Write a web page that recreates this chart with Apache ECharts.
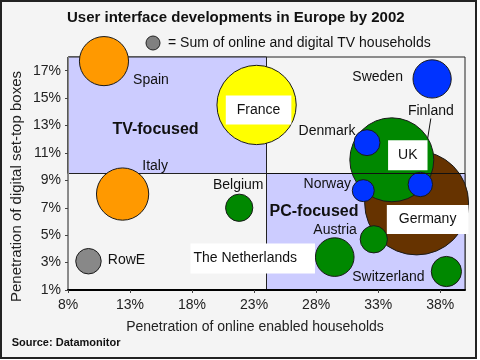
<!DOCTYPE html>
<html><head><meta charset="utf-8">
<script src="https://cdn.jsdelivr.net/npm/echarts@6/dist/echarts.min.js"></script>
<style>html,body{margin:0;padding:0;background:#fff}#c{width:480px;height:360px}</style>
</head><body><div id="c"></div>
<script>
// ---- data ----
const countries = ['Spain','France','Sweden','Germany','UK','Denmark','Finland','Norway','Austria','The Netherlands','Switzerland','Belgium','Italy','RowE'];
const onlinePenetration = [10.9, 23.2, 37.35, 36.1, 34.1, 32.1, 36.4, 31.8, 32.65, 29.5, 38.5, 21.8, 12.4, 9.65];
const digitalTVPenetration = [17.7, 14.5, 16.4, 7.35, 10.5, 11.75, 8.7, 8.25, 4.7, 3.4, 2.35, 7.0, 8.0, 3.1];
const households = [3.8, 9.9, 2.3, 17.0, 11.1, 1.06, 0.94, 0.76, 1.17, 2.35, 1.44, 1.17, 4.3, 1.02];
const xMin = 8, xMax = 40, xStep = 5;
const yMin = 1, yMax = 18, yStep = 2;
const xSplit = 24, ySplit = 9.5;
const titleText = 'User interface developments in Europe by 2002';
const legendText = '= Sum of online and digital TV households';
const xName = 'Penetration of online enabled households';
const yName = 'Penetration of digital set-top boxes';
const sourceText = 'Source: Datamonitor';

// ---- styles ----
const FONT = '"Liberation Sans", Arial, sans-serif';
const ORANGE = '#ff9900', YELLOW = '#ffff00', BLUE = '#0033ff', GREEN = '#008800', BROWN = '#663300', GREY = '#888888';
const colors = {'Spain':ORANGE,'Italy':ORANGE,'France':YELLOW,'Sweden':BLUE,'Denmark':BLUE,'Finland':BLUE,'Norway':BLUE,
  'UK':GREEN,'Austria':GREEN,'The Netherlands':GREEN,'Switzerland':GREEN,'Belgium':GREEN,'Germany':BROWN,'RowE':GREY};
const labelPlace = {
  'Spain':{dx:47,dy:19}, 'France':{dx:2,dy:5,box:[8,11,7,11]}, 'Sweden':{dx:-54.5,dy:-2},
  'Germany':{dx:11,dy:16.5,box:[8,12,7,12]}, 'UK':{dx:16,dy:-4.5,box:[8,10,8,10]},
  'Denmark':{dx:-40,dy:-12}, 'Finland':{dx:10.5,dy:-73,line:true}, 'Norway':{dx:-36,dy:-6},
  'Austria':{dx:-38.7,dy:-9}, 'The Netherlands':{dx:-82,dy:1.5,box:[8,18,8,3]},
  'Switzerland':{dx:-58,dy:5.6}, 'Belgium':{dx:-1,dy:-22.8}, 'Italy':{dx:32.5,dy:-27.7}, 'RowE':{dx:38,dy:-1.5}
};

const bubbleData = countries.map((c, i) => {
  const p = labelPlace[c];
  const item = {
    name: c,
    value: [onlinePenetration[i], digitalTVPenetration[i], households[i]],
    itemStyle: {color: colors[c]}
  };
  if (p.box) item.label = {backgroundColor:'#ffffff', padding:p.box};
  if (p.line) item.labelLine = {show:true, lineStyle:{color:'#111', width:1}};
  return item;
});

const chart = echarts.init(document.getElementById('c'), null, {renderer:'canvas'});
chart.setOption({
  backgroundColor: '#ffffff',
  animation: false,
  title: {text: titleText, left: 67, top: 10, padding: 0,
    textStyle: {fontFamily: FONT, fontSize: 15, fontWeight: 'bold', color: '#111'}},
  grid: {left: 68, right: 15, top: 57, bottom: 70, show: true, borderColor: '#222', borderWidth: 1, backgroundColor: 'transparent'},
  xAxis: {type:'value', min:xMin, max:xMax, interval:xStep, z: 10,
    axisLine:{show:true, lineStyle:{color:'#000', width:2}},
    axisTick:{show:true, length:3, lineStyle:{color:'#444'}},
    axisLabel:{formatter:'{value}%', showMaxLabel:false, margin:8, fontFamily:FONT, fontSize:14, color:'#222'},
    splitLine:{show:false}},
  yAxis: {type:'value', min:yMin, max:yMax, interval:yStep, z: 10,
    axisLine:{show:true, lineStyle:{color:'#888', width:1}},
    axisTick:{show:true, length:3, lineStyle:{color:'#444'}},
    axisLabel:{formatter:'{value}%', showMaxLabel:false, margin:7, fontFamily:FONT, fontSize:14, color:'#222'},
    splitLine:{show:false}},
  graphic: [
    {type:'rect', z:-10, silent:true, shape:{x:1, y:1, width:475, height:357}, style:{fill:'#f4f4f4', stroke:'#222', lineWidth:2}},
    {type:'circle', silent:true, shape:{cx:153, cy:43, r:7}, style:{fill:'#808080', stroke:'#222', lineWidth:1}},
    {type:'text', silent:true, x:168, y:43, style:{text:legendText, fontFamily:FONT, fontSize:14, fill:'#111', align:'left', verticalAlign:'middle'}},
    {type:'text', silent:true, z:5, x:155.5, y:129.3, style:{text:'TV-focused', fontFamily:FONT, fontSize:16, fontWeight:'bold', fill:'#111', align:'center', verticalAlign:'middle'}},
    {type:'text', silent:true, z:5, x:314, y:211.7, style:{text:'PC-focused', fontFamily:FONT, fontSize:16, fontWeight:'bold', fill:'#111', align:'center', verticalAlign:'middle'}},
    {type:'text', silent:true, x:255, y:327, style:{text:xName, fontFamily:FONT, fontSize:14, fill:'#222', align:'center', verticalAlign:'middle'}},
    {type:'text', silent:true, x:17, y:186.5, rotation:Math.PI/2, style:{text:yName, fontFamily:FONT, fontSize:15, fill:'#222', align:'center', verticalAlign:'middle'}},
    {type:'text', silent:true, x:11.7, y:342.7, style:{text:sourceText, fontFamily:FONT, fontSize:11, fontWeight:'bold', fill:'#111', align:'left', verticalAlign:'middle'}}
  ],
  series: [
    {type:'line', data:[], z:1, silent:true,
      markArea:{silent:true, itemStyle:{color:'#ccccff', borderColor:'#222', borderWidth:1}, label:{show:false},
        data:[
          [{coord:[xMin, ySplit]}, {coord:[xSplit, yMax]}],
          [{coord:[xSplit, yMin]}, {coord:[xMax, ySplit]}]
        ]}},
    {type:'scatter', name:'Households', z:2, clip:false, data:bubbleData,
      symbolSize: v => Math.sqrt(v[2]) * 25.2,
      itemStyle:{borderColor:'#1a1a1a', borderWidth:1, opacity:1},
      label:{show:true, position:'inside', formatter:'{b}', color:'#111', fontFamily:FONT, fontSize:14},
      labelLayout: params => {
        const p = labelPlace[countries[params.dataIndex]];
        return {dx:p.dx, dy:p.dy};
      },
      emphasis:{disabled:true}},
    {type:'line', data:[], z:3, silent:true,
      markLine:{silent:true, symbol:['none','none'], label:{show:false}, lineStyle:{color:'#111', width:1, type:'solid'},
        data:[[{coord:[xSplit, ySplit]}, {coord:[xMax, ySplit]}]]}}
  ]
});
</script></body></html>
